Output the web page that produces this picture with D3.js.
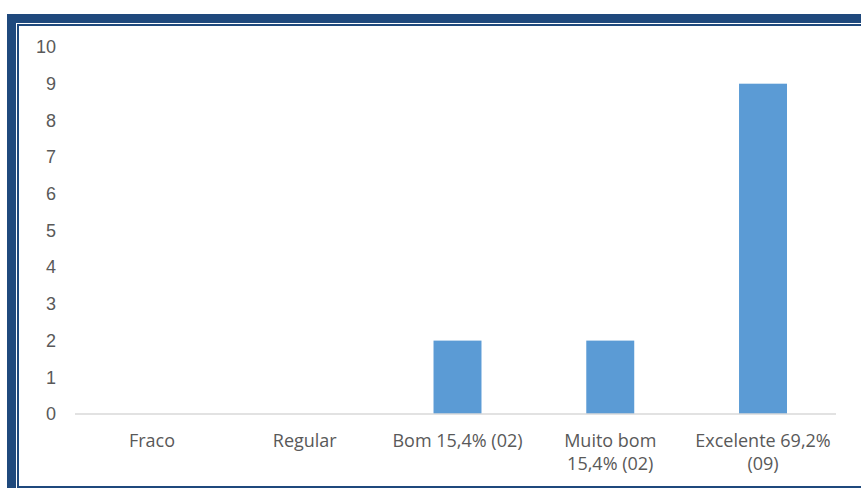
<!DOCTYPE html>
<html>
  <head>
    <meta charset="utf-8">
    <title>Avaliação</title>
    <style>
      body { margin: 0; background: #fff; }
      svg { font-family: "Open Sans", "Noto Sans", sans-serif; }
      .tick text { fill: #595959; font-size: 18px; }
    </style>
  </head>
  <body>
    <svg width="861" height="488"></svg>

    <script src="https://d3js.org/d3.v7.min.js"></script>
    <script>
      // Data
      const categories = ['Fraco', 'Regular', 'Bom 15,4% (02)', 'Muito bom 15,4% (02)', 'Excelente 69,2% (09)'];
      const labelLines = [['Fraco'], ['Regular'], ['Bom 15,4% (02)'], ['Muito bom', '15,4% (02)'], ['Excelente 69,2%', '(09)']];
      const values = [0, 0, 2, 2, 9];
      const yTicks = [0, 1, 2, 3, 4, 5, 6, 7, 8, 9, 10];

      const width = 861;
      const height = 488;
      const margin = { top: 47, bottom: 74, left: 75 };

      const svg = d3.select('svg');

      // frame: thick outer band + thin inner line (top and left), thin bottom line
      const navy = '#1F497D';
      svg.append('rect').attr('x', 7).attr('y', 14).attr('width', width - 7).attr('height', 9).attr('fill', navy);
      svg.append('rect').attr('x', 7).attr('y', 14).attr('width', 9).attr('height', height - 14).attr('fill', navy);
      svg.append('rect').attr('x', 17).attr('y', 24).attr('width', width - 17).attr('height', 2).attr('fill', navy);
      svg.append('rect').attr('x', 17).attr('y', 24).attr('width', 2).attr('height', height - 24).attr('fill', navy);
      svg.append('rect').attr('x', 17).attr('y', 486).attr('width', width - 17).attr('height', 2).attr('fill', navy);

      const x = d3.scaleBand()
        .domain(categories)
        .range([75.6, 839.4])
        .paddingInner(0.686)
        .paddingOuter(0.343);

      const y = d3.scaleLinear()
        .domain([0, 10])
        .range([height - margin.bottom, margin.top]);

      // y axis labels only
      const yAxis = svg.append('g')
        .attr('transform', 'translate(56,0)')
        .call(d3.axisLeft(y).tickValues(yTicks).tickSize(0).tickPadding(0));
      yAxis.select('.domain').remove();

      // bars
      svg.selectAll('.bar')
        .data(values)
        .enter()
        .append('rect')
        .attr('class', 'bar')
        .attr('x', (d, i) => x(categories[i]))
        .attr('y', d => y(d))
        .attr('width', x.bandwidth())
        .attr('height', d => y(0) - y(d))
        .attr('fill', '#5B9BD5');

      // baseline
      svg.append('line')
        .attr('x1', margin.left).attr('x2', 836)
        .attr('y1', y(0)).attr('y2', y(0))
        .attr('stroke', '#D9D9D9').attr('stroke-width', 1.5);

      // category labels
      const labels = svg.selectAll('.xlabel')
        .data(categories)
        .enter()
        .append('text')
        .attr('class', 'xlabel')
        .attr('text-anchor', 'middle')
        .attr('fill', '#595959')
        .attr('font-size', 18)
        .attr('transform', d => `translate(${x(d) + x.bandwidth() / 2},${y(0) + 33})`);

      labels.each(function (d, i) {
        d3.select(this).selectAll('tspan')
          .data(labelLines[i])
          .enter()
          .append('tspan')
          .attr('x', 0)
          .attr('dy', (l, j) => j === 0 ? 0 : 23)
          .text(l => l);
      });
    </script>
  </body>
</html>
